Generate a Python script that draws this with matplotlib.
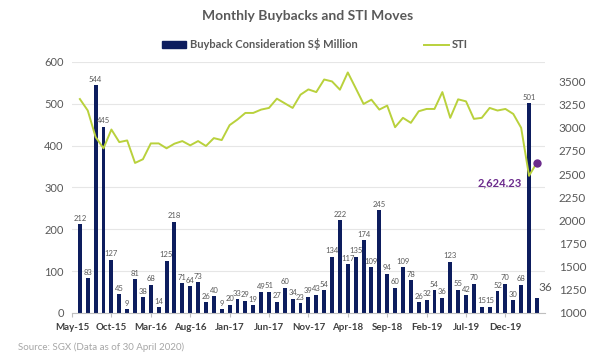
import matplotlib
matplotlib.use('Agg')
import matplotlib.pyplot as plt
import numpy as np
from matplotlib.lines import Line2D
from matplotlib.patches import Patch

plt.rcParams['font.family'] = ['Lato', 'DejaVu Sans']

# monthly data, Jun-15 .. Apr-20
buyback = [212, 83, 544, 445, 127, 45, 9, 81, 38, 68, 14, 125,
           218, 71, 64, 73, 26, 40, 9, 20, 33, 29, 19, 49,
           51, 27, 60, 34, 23, 39, 43, 54, 134, 222, 117, 135,
           174, 109, 245, 94, 60, 109, 78, 26, 32, 54, 36, 123,
           55, 42, 70, 15, 15, 52, 70, 30, 68, 501, 36]
sti = [3310, 3186, 2899, 2778, 2981, 2845, 2863, 2620, 2660, 2831, 2831, 2778,
       2828, 2856, 2810, 2856, 2803, 2888, 2867, 3028, 3089, 3160, 3160, 3196,
       3214, 3314, 3264, 3214, 3357, 3414, 3385, 3521, 3500, 3411, 3597, 3428,
       3257, 3303, 3196, 3239, 3006, 3107, 3053, 3178, 3203, 3203, 3385, 3107,
       3307, 3285, 3096, 3107, 3214, 3186, 3203, 3149, 2999, 2481, 2624.23]
tick_labels = ['May-15', 'Oct-15', 'Mar-16', 'Aug-16', 'Jan-17', 'Jun-17',
               'Nov-17', 'Apr-18', 'Sep-18', 'Feb-19', 'Jul-19', 'Dec-19']

navy = '#0d1d5e'
green = '#b9d13c'
purple = '#6b2a8c'
grey = '#595959'

fig = plt.figure(figsize=(6, 3.6), dpi=100)
ax = fig.add_axes([0.12, 0.1306, 0.788, 0.6972])
x = np.arange(len(buyback))

ax.bar(x, buyback, width=0.5, color=navy, zorder=2)
for i, v in enumerate(buyback[:-1]):
    ax.text(i, v + 6, str(v), ha='center', va='bottom', fontsize=5.5, color=grey)
ax.text(x[-1] + 1.1, 60, str(buyback[-1]), ha='center', va='center', fontsize=8.5, color=grey)

ax.set_ylim(0, 600)
ax.set_yticks(np.arange(0, 601, 100))
ax.set_xlim(-1, 59)
ax.set_xticks(np.arange(-1, 55, 5))
ax.set_xticklabels(tick_labels, fontsize=7, fontweight='bold', color='#404040')
ax.grid(axis='y', color='#e6e6e6', linewidth=0.8, zorder=0)
ax.set_axisbelow(True)
for s in ['top', 'right', 'left']:
    ax.spines[s].set_visible(False)
ax.spines['bottom'].set_color('#bfbfbf')
ax.tick_params(axis='y', length=0, labelsize=8, labelcolor=grey, pad=6)
ax.tick_params(axis='x', length=3, color='#bfbfbf', pad=4)

ax2 = ax.twinx()
ax2.plot(x, sti, color=green, linewidth=1.4, zorder=3)
ax2.plot(x[-1], sti[-1], 'o', color=purple, markersize=5, zorder=4)
ax2.text(53.3, 2410, f'{sti[-1]:,.2f}', ha='center', va='center',
         fontsize=8, fontweight='bold', color=purple)
ax2.set_ylim(1000, 3710)
ax2.set_yticks(np.arange(1000, 3501, 250))
for s in ['top', 'right', 'left', 'bottom']:
    ax2.spines[s].set_visible(False)
ax2.tick_params(axis='y', length=0, labelsize=8.5, labelcolor=grey, pad=10)

fig.text(0.512, 0.955, 'Monthly Buybacks and STI Moves', ha='center', va='center',
         fontsize=10, fontweight='bold', color=grey)

handles = [Patch(color=navy), Line2D([0], [0], color=green, linewidth=1.4)]
fig.legend(handles, ['Buyback Consideration S$ Million', 'STI'], loc='center',
           bbox_to_anchor=(0.525, 0.877), ncol=2, frameon=False,
           prop={'weight': 'bold', 'size': 8}, handlelength=2.2, handleheight=0.5,
           handletextpad=0.3, columnspacing=6)
for t in fig.legends[0].get_texts():
    t.set_color(grey)

fig.text(0.03, 0.035, 'Source: SGX (Data as of 30 April 2020)', ha='left', va='center',
         fontsize=7, color='#a6a6a6')

fig.savefig('out.png', dpi=100)
